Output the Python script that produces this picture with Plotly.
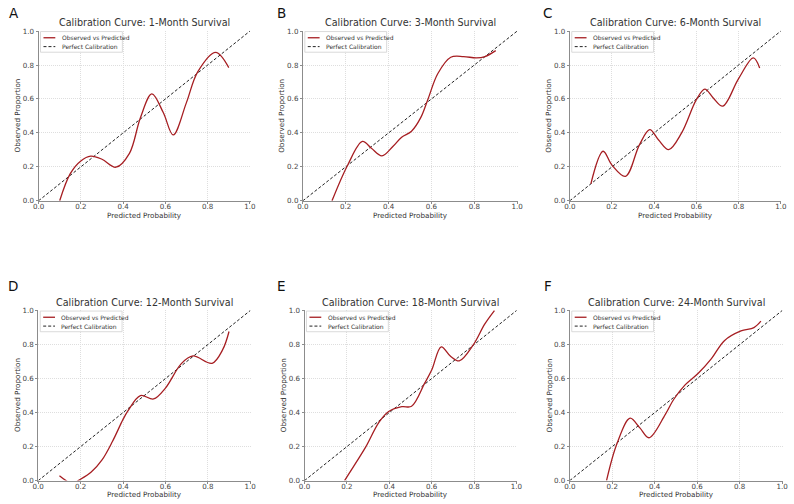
import plotly.graph_objects as go

W, H = 794, 504

# ---------------- data ----------------
titles = ["Calibration Curve: 1-Month Survival", "Calibration Curve: 3-Month Survival",
          "Calibration Curve: 6-Month Survival", "Calibration Curve: 12-Month Survival",
          "Calibration Curve: 18-Month Survival", "Calibration Curve: 24-Month Survival"]
letters = ["A", "B", "C", "D", "E", "F"]

x_1m = [0.10, 0.15, 0.20, 0.247, 0.30, 0.366, 0.43, 0.482, 0.536, 0.59, 0.637, 0.70, 0.753, 0.838, 0.90]
y_1m = [0.0, 0.16, 0.235, 0.263, 0.245, 0.198, 0.28, 0.49, 0.63, 0.52, 0.388, 0.58, 0.76, 0.875, 0.785]

x_3m = [0.136, 0.209, 0.278, 0.32, 0.369, 0.42, 0.461, 0.507, 0.55, 0.583, 0.63, 0.69, 0.75, 0.81, 0.85, 0.90]
y_3m = [0.0, 0.21, 0.35, 0.31, 0.265, 0.32, 0.375, 0.41, 0.49, 0.596, 0.75, 0.846, 0.85, 0.842, 0.85, 0.885]

x_6m = [0.10, 0.158, 0.20, 0.264, 0.33, 0.379, 0.42, 0.469, 0.53, 0.60, 0.64, 0.68, 0.725, 0.80, 0.87, 0.90]
y_6m = [0.10, 0.292, 0.21, 0.144, 0.33, 0.419, 0.36, 0.302, 0.40, 0.596, 0.658, 0.606, 0.558, 0.72, 0.842, 0.783]

x_12m = [0.10, 0.131, 0.16, 0.189, 0.25, 0.30, 0.35, 0.40, 0.423, 0.482, 0.544, 0.60, 0.675, 0.73, 0.82, 0.87, 0.90]
y_12m = [0.029, 0.0, -0.02, 0.0, 0.05, 0.12, 0.23, 0.36, 0.41, 0.50, 0.48, 0.544, 0.688, 0.733, 0.69, 0.77, 0.877]

x_18m = [0.189, 0.24, 0.289, 0.351, 0.397, 0.459, 0.505, 0.567, 0.60, 0.645, 0.69, 0.73, 0.796, 0.85, 0.896]
y_18m = [0.0, 0.10, 0.198, 0.342, 0.406, 0.435, 0.437, 0.573, 0.65, 0.787, 0.73, 0.704, 0.798, 0.92, 1.0]

x_24m = [0.173, 0.222, 0.284, 0.33, 0.373, 0.45, 0.489, 0.543, 0.605, 0.667, 0.728, 0.806, 0.867, 0.90]
y_24m = [0.0, 0.217, 0.367, 0.31, 0.252, 0.39, 0.477, 0.563, 0.631, 0.717, 0.823, 0.88, 0.90, 0.938]

xs = [x_1m, x_3m, x_6m, x_12m, x_18m, x_24m]
ys = [y_1m, y_3m, y_6m, y_12m, y_18m, y_24m]

diag = [0.0, 1.0]
tick_vals = [0.0, 0.2, 0.4, 0.6, 0.8, 1.0]
tick_text = ["0.0", "0.2", "0.4", "0.6", "0.8", "1.0"]

# ---------------- layout (pixel boxes of each plot area) ----------------
boxes = [(33, 248, 27, 200), (301, 519, 27, 200), (571.7, 786.3, 27, 200),
         (32.7, 248.3, 311, 484.3), (302.7, 518.3, 311, 484.3), (571.7, 787.7, 311, 484.3)]
letter_pos = [(1, 9), (273, 9), (543, 9), (0, 287), (273, 287), (544, 287)]

RED = "#a61e22"
FONT = "DejaVu Sans"
TXT = "#333333"

fig = go.Figure()
layout = dict(width=W, height=H, margin=dict(l=0, r=0, t=0, b=0),
              paper_bgcolor="white", plot_bgcolor="white", showlegend=False,
              font=dict(family=FONT, color=TXT))
annotations = []
shapes = []

for i in range(6):
    x0, x1, y0, y1 = boxes[i]
    sfx = "" if i == 0 else str(i + 1)
    xa, ya = "x" + sfx, "y" + sfx
    axis_common = dict(range=[0, 1.003], tickmode="array", tickvals=tick_vals, ticktext=tick_text,
                       showgrid=True, gridcolor="#dedede", gridwidth=0.8, griddash="1px,1px",
                       zeroline=False, showline=True, linecolor="#8c8c8c", linewidth=1,
                       ticks="outside", ticklen=2, tickcolor="#8c8c8c", tickwidth=0.8,
                       tickfont=dict(size=7.1, color="#444444", family=FONT), fixedrange=True)
    layout["xaxis" + sfx] = dict(axis_common, domain=[x0 / W, x1 / W], anchor=ya,
                                 ticklabelstandoff=-3)
    layout["yaxis" + sfx] = dict(axis_common, domain=[1 - y1 / H, 1 - y0 / H], anchor=xa)

    fig.add_trace(go.Scatter(x=diag, y=diag, mode="lines", xaxis=xa, yaxis=ya,
                             line=dict(color="#222222", width=1, dash="3px,2px"),
                             name="Perfect Calibration"))
    fig.add_trace(go.Scatter(x=xs[i], y=ys[i], mode="lines", xaxis=xa, yaxis=ya,
                             line=dict(color=RED, width=1.3, shape="spline", smoothing=1.0),
                             name="Observed vs Predicted"))

    cx = (x0 + x1) / 2
    # title
    annotations.append(dict(text=titles[i], x=cx / W, y=1 - (y0 - 8) / H, xref="paper", yref="paper",
                            showarrow=False, xanchor="center", yanchor="middle",
                            font=dict(size=9.6, color=TXT, family=FONT)))
    # axis titles
    annotations.append(dict(text="Predicted Probability", x=cx / W, y=1 - (y1 + 14.5) / H,
                            xref="paper", yref="paper", showarrow=False, xanchor="center",
                            yanchor="middle", font=dict(size=7.2, color=TXT, family=FONT)))
    annotations.append(dict(text="Observed Proportion", x=(x0 - 21) / W, y=1 - ((y0 + y1) / 2) / H,
                            xref="paper", yref="paper", showarrow=False, textangle=-90,
                            xanchor="center", yanchor="middle",
                            font=dict(size=7.2, color=TXT, family=FONT)))
    # panel letter
    lx, ly = letter_pos[i]
    annotations.append(dict(text=letters[i], x=lx / W, y=1 - ly / H, xref="paper", yref="paper",
                            showarrow=False, xanchor="left", yanchor="middle",
                            font=dict(size=13.5, color="#111111", family=FONT)))

    # legend (drawn inside each panel, upper left)
    pw, ph = x1 - x0, y1 - y0
    fx = lambda p: p / pw
    fy = lambda p: 1 - p / ph
    xd, yd = xa + " domain", ya + " domain"
    shapes.append(dict(type="rect", xref=xd, yref=yd, x0=fx(2), x1=fx(85), y0=fy(22), y1=fy(1),
                       line=dict(color="#d0d0d0", width=0.8), fillcolor="rgba(255,255,255,0.85)",
                       layer="above"))
    shapes.append(dict(type="line", xref=xd, yref=yd, x0=fx(5), x1=fx(17), y0=fy(7.3), y1=fy(7.3),
                       line=dict(color=RED, width=1.3), layer="above"))
    shapes.append(dict(type="line", xref=xd, yref=yd, x0=fx(5), x1=fx(17), y0=fy(16.3), y1=fy(16.3),
                       line=dict(color="#222222", width=1, dash="3px,2px"), layer="above"))
    annotations.append(dict(text="Observed vs Predicted", xref=xd, yref=yd, x=fx(21.5), y=fy(7.3),
                            showarrow=False, xanchor="left", yanchor="middle",
                            font=dict(size=6, color=TXT, family=FONT)))
    annotations.append(dict(text="Perfect Calibration", xref=xd, yref=yd, x=fx(21.5), y=fy(16.3),
                            showarrow=False, xanchor="left", yanchor="middle",
                            font=dict(size=6, color=TXT, family=FONT)))

layout["annotations"] = annotations
layout["shapes"] = shapes
fig.update_layout(**layout)
fig.write_html("out.html")
